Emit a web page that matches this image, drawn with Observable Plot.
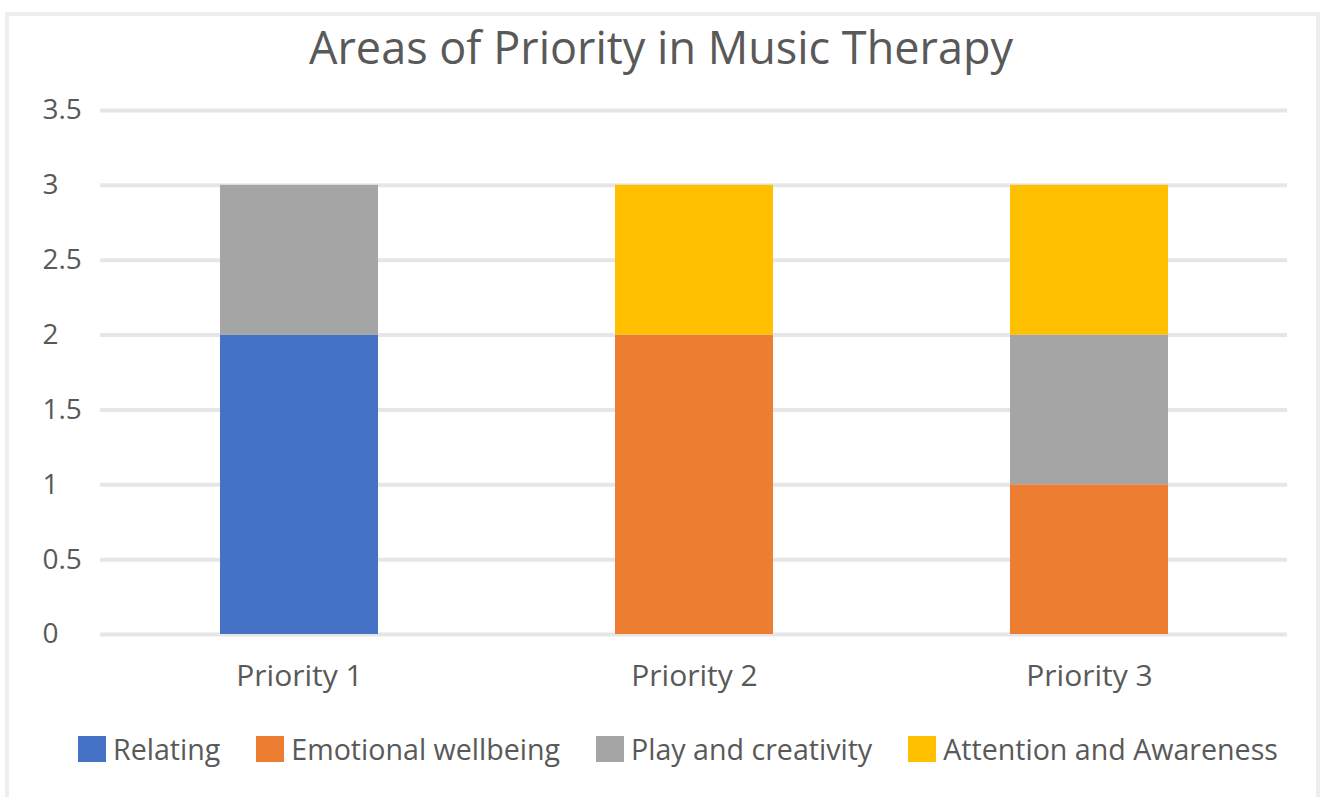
<!DOCTYPE html>
<html>
<head>
<meta charset="utf-8">
<script src="https://cdn.jsdelivr.net/npm/d3@7"></script>
<script src="https://cdn.jsdelivr.net/npm/@observablehq/plot@0.6"></script>
<style>
  html, body { margin: 0; padding: 0; background: #fff; width: 1322px; height: 797px; overflow: hidden; }
  body { position: relative; font-family: "Open Sans", sans-serif; color: #595959; }
  #frame { position: absolute; left: 5px; top: 12px; width: 1307px; height: 800px; border: 4px solid #eeeeee; border-bottom: none; }
  #title { position: absolute; top: 19px; left: 0; width: 1322px; text-align: center; font-size: 45px; line-height: 56px; color: #595959; }
  #chart { position: absolute; top: 90px; left: 0; }
  #legend { position: absolute; top: 729px; left: 78px; display: flex; gap: 36px; align-items: center; font-size: 28.6px; line-height: 40px; color: #595959; }
  .item { display: flex; align-items: center; gap: 7px; }
  .sw { width: 28px; height: 26px; }
</style>
</head>
<body>
<div id="frame"></div>
<div id="title">Areas of Priority in Music Therapy</div>
<div id="chart"></div>
<div id="legend"></div>
<script>
const categories = ["Priority 1", "Priority 2", "Priority 3"];
const seriesNames = ["Relating", "Emotional wellbeing", "Play and creativity", "Attention and Awareness"];
const relating = [2, 0, 0];
const emotionalWellbeing = [0, 2, 1];
const playAndCreativity = [1, 0, 1];
const attentionAndAwareness = [0, 1, 1];
const yTicks = [0, 0.5, 1, 1.5, 2, 2.5, 3, 3.5];
const colors = ["#4472C4", "#ED7D31", "#A5A5A5", "#FFC000"];

const seriesValues = [relating, emotionalWellbeing, playAndCreativity, attentionAndAwareness];
const data = [];
seriesNames.forEach((s, i) => {
  categories.forEach((c, j) => {
    data.push({category: c, series: s, value: seriesValues[i][j]});
  });
});

const chart = Plot.plot({
  width: 1322,
  height: 620,
  marginTop: 20,
  marginBottom: 76,
  marginLeft: 100,
  marginRight: 35,
  style: {fontFamily: "Open Sans, sans-serif", fontSize: "28px", color: "#595959", background: "transparent"},
  x: {domain: categories, paddingInner: 0.6, paddingOuter: 0.3, label: null},
  y: {domain: [0, 3.5], label: null},
  color: {domain: seriesNames, range: colors},
  marks: [
    Plot.gridY(yTicks, {stroke: "#e6e6e6", strokeOpacity: 1, strokeWidth: 4}),
    Plot.barY(data, {x: "category", y: "value", fill: "series", order: seriesNames}),
    Plot.axisY(yTicks, {tickSize: 0, tickPadding: 58, textAnchor: "start", fill: "#595959", label: null, tickFormat: d => String(d)}),
    Plot.axisX({tickSize: 0, tickPadding: 30, fill: "#595959", fontSize: 30, label: null})
  ]
});
document.getElementById("chart").appendChild(chart);

const legend = document.getElementById("legend");
seriesNames.forEach((s, i) => {
  const item = document.createElement("div");
  item.className = "item";
  const sw = document.createElement("div");
  sw.className = "sw";
  sw.style.background = colors[i];
  const t = document.createElement("span");
  t.textContent = s;
  item.appendChild(sw);
  item.appendChild(t);
  legend.appendChild(item);
});
</script>
</body>
</html>
